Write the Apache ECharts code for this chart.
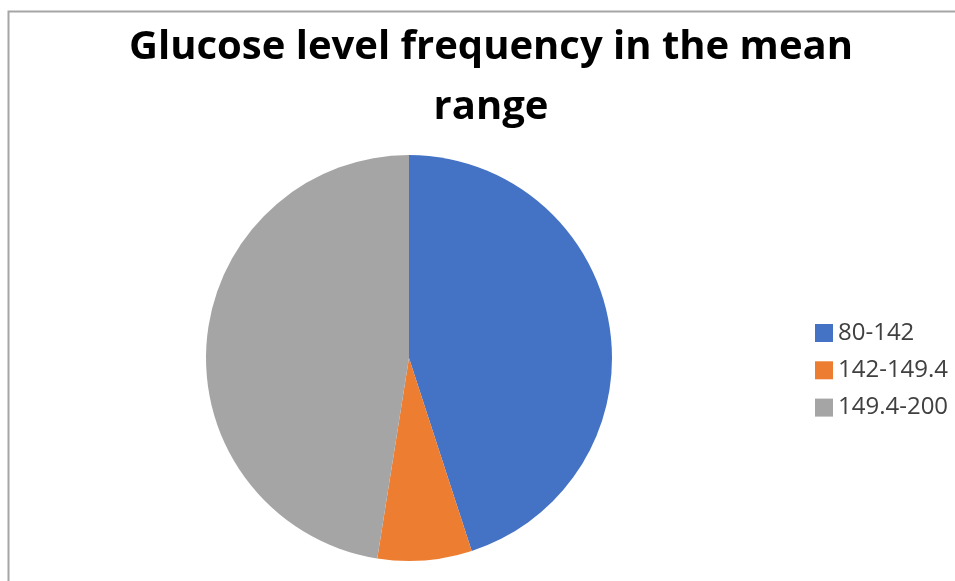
<!DOCTYPE html>
<html>
<head>
<meta charset="utf-8">
<script src="https://cdn.jsdelivr.net/npm/echarts@6/dist/echarts.min.js"></script>
<style>
  html, body { margin: 0; padding: 0; background: #fff; }
  #chart { width: 955px; height: 581px; }
</style>
</head>
<body>
<div id="chart"></div>
<script>
// Glucose level ranges and how many readings fall in each
const categories = ['80-142', '142-149.4', '149.4-200'];
const counts = [18, 3, 19];
const colors = ['#4472C4', '#ED7D31', '#A5A5A5'];

const chart = echarts.init(document.getElementById('chart'), null, { renderer: 'canvas' });

chart.setOption({
  backgroundColor: '#ffffff',
  animation: false,
  color: colors,
  title: {
    text: 'Glucose level frequency in the mean\nrange',
    left: 486,
    textAlign: 'center',
    top: 13,
    textStyle: {
      fontFamily: 'Open Sans',
      fontWeight: 'bold',
      fontSize: 40,
      lineHeight: 60,
      color: '#000000'
    }
  },
  legend: {
    orient: 'vertical',
    left: 810,
    top: 316,
    itemWidth: 18,
    itemHeight: 18,
    itemGap: 13.3,
    icon: 'rect',
    textStyle: {
      fontFamily: 'Open Sans',
      fontSize: 24,
      lineHeight: 18,
      color: '#404040'
    },
    data: categories
  },
  graphic: [{
    type: 'polyline',
    shape: { points: [[8.5, 581], [8.5, 11.5], [955, 11.5]] },
    style: { stroke: '#A6A6A6', lineWidth: 2, fill: null },
    silent: true
  }],
  series: [{
    type: 'pie',
    center: [409, 358],
    radius: 203,
    startAngle: 90,
    clockwise: true,
    label: { show: false },
    labelLine: { show: false },
    itemStyle: { borderWidth: 0 },
    emphasis: { disabled: true },
    data: categories.map((name, i) => ({ name, value: counts[i] }))
  }]
});
</script>
</body>
</html>
